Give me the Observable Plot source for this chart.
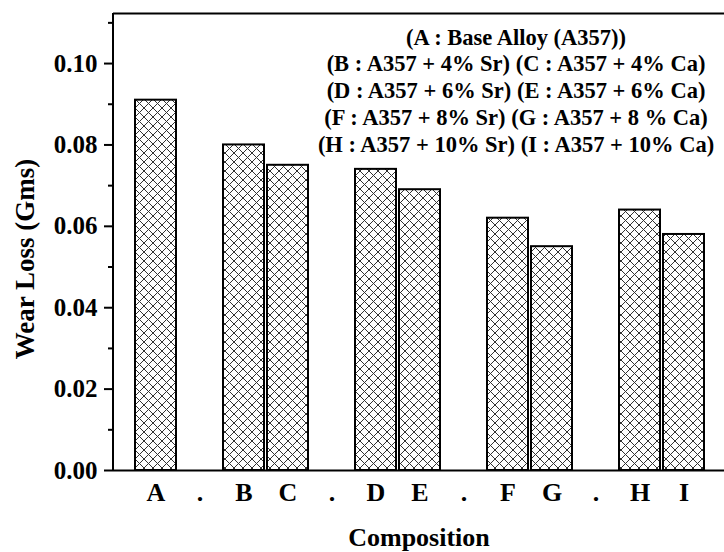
<!DOCTYPE html>
<html>
<head>
<meta charset="utf-8">
<script src="https://cdn.jsdelivr.net/npm/d3@7"></script>
<script src="https://cdn.jsdelivr.net/npm/@observablehq/plot@0.6"></script>
<style>
  html, body { margin: 0; padding: 0; background: #fff; overflow: hidden; }
  #chart svg, #chart svg text {
    font-family: "Liberation Serif", "DejaVu Serif", serif !important;
    font-weight: bold !important;
  }
</style>
</head>
<body>
<div id="chart"></div>
<script>
// Composition codes and measured wear loss (grams)
const codes = ["A", "B", "C", "D", "E", "F", "G", "H", "I"];
const wearLoss = [0.091, 0.080, 0.075, 0.074, 0.069, 0.062, 0.055, 0.064, 0.058];

// x slots: groups separated by a "." placeholder slot
const slots = ["A", ".1", "B", "C", ".2", "D", "E", ".3", "F", "G", ".4", "H", "I"];
const slotLabels = ["A", ".", "B", "C", ".", "D", "E", ".", "F", "G", ".", "H", "I"];

// y axis ticks
const yMax = 0.1123;
const yMajorTicks = [0, 0.02, 0.04, 0.06, 0.08, 0.10];
const yMinorTicks = [0.01, 0.03, 0.05, 0.07, 0.09, 0.11];

// key to the composition codes
const keyLines = [
  "(A : Base Alloy (A357))",
  "(B : A357 + 4% Sr) (C : A357 + 4% Ca)",
  "(D : A357 + 6% Sr) (E : A357 + 6% Ca)",
  "(F : A357 + 8% Sr) (G : A357 + 8 % Ca)",
  "(H : A357 + 10% Sr) (I : A357 + 10% Ca)"
];

const xTitle = "Composition";
const yTitle = "Wear Loss (Gms)";

const serif = "'Liberation Serif', 'DejaVu Serif', serif";

const data = codes.map((code, i) => ({code, loss: wearLoss[i]}));

// cross-hatch fill pattern plus the left axis line
function decorations(index, scales, values, dimensions) {
  const dims = dimensions || {marginLeft: 113, marginTop: 13, height: 552, marginBottom: 82};
  const g = d3.create("svg:g");
  const defs = g.append("defs");
  const s = 9;
  const p = defs.append("pattern")
    .attr("id", "crosshatch")
    .attr("patternUnits", "userSpaceOnUse")
    .attr("width", s).attr("height", s);
  p.append("rect").attr("width", s).attr("height", s).attr("fill", "#fff");
  p.append("path")
    .attr("d", `M-1,-1L${s + 1},${s + 1}M${s + 1},-1L-1,${s + 1}`)
    .attr("stroke", "#333")
    .attr("stroke-width", 1)
    .attr("fill", "none");
  g.append("line")
    .attr("x1", dims.marginLeft).attr("x2", dims.marginLeft)
    .attr("y1", dims.marginTop).attr("y2", dims.height - dims.marginBottom)
    .attr("stroke", "#000").attr("stroke-width", 2);
  return g.node();
}

const chart = Plot.plot({
  width: 724,
  height: 552,
  marginLeft: 113,
  marginRight: 0,
  marginTop: 13,
  marginBottom: 82,
  style: {
    fontFamily: serif,
    fontWeight: "bold",
    fontSize: "25px",
    color: "#000",
    background: "#fff"
  },
  x: {domain: slots, padding: 0.077, insetLeft: 16, insetRight: 14, axis: null},
  y: {domain: [0, yMax], axis: null},
  marks: [
    decorations,
    Plot.barY(data, {
      x: "code", y: "loss", inset: 0,
      fill: "url(#crosshatch)", stroke: "#000", strokeWidth: 2
    }),
    Plot.ruleY([0], {stroke: "#000", strokeWidth: 2}),
    Plot.ruleY([yMax], {stroke: "#000", strokeWidth: 2}),
    Plot.axisY({
      ticks: yMajorTicks, tickSize: 9, tickPadding: 7, strokeWidth: 2,
      tickFormat: d3.format(".2f"), fontSize: 25, label: null
    }),
    Plot.axisY({
      ticks: yMinorTicks, tickSize: 5, strokeWidth: 2,
      tickFormat: () => "", label: null
    }),
    Plot.axisX({
      tickSize: 0, tickPadding: 12, fontSize: 26, label: null,
      tickFormat: d => slotLabels[slots.indexOf(d)]
    }),
    Plot.text([xTitle], {
      text: d => d, frameAnchor: "bottom", lineAnchor: "middle",
      dy: 67, fontSize: 26, fontWeight: "bold"
    }),
    Plot.text([yTitle], {
      text: d => d, frameAnchor: "left", textAnchor: "middle", lineAnchor: "middle",
      rotate: -90, dx: -88, dy: 17, fontSize: 27, fontWeight: "bold"
    }),
    Plot.text([keyLines.join("\n")], {
      text: d => d, frameAnchor: "top", textAnchor: "middle", lineAnchor: "top",
      dx: 97, dy: 12, lineHeight: 1.19, fontSize: 22.5, fontWeight: "bold"
    })
  ]
});

document.getElementById("chart").appendChild(chart);
</script>
</body>
</html>
